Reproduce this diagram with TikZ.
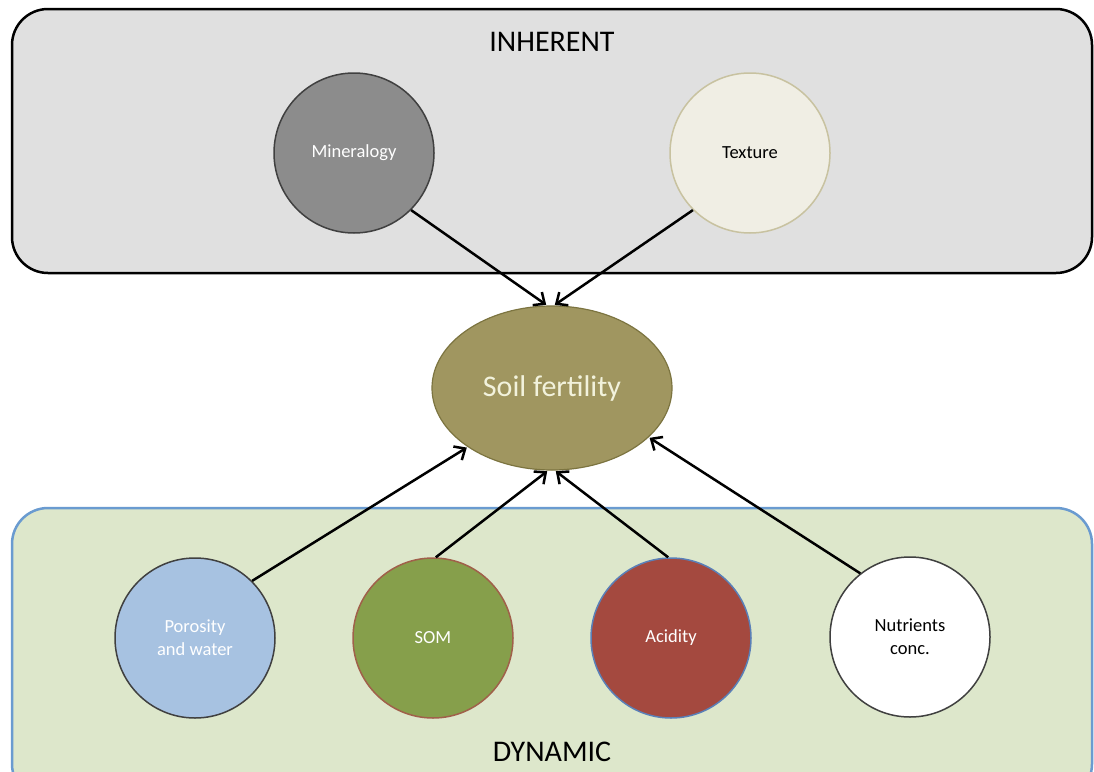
\documentclass[tikz,border=0pt]{standalone}
\usepackage{fontspec}
\setmainfont{Carlito}
\usetikzlibrary{arrows.meta,shapes.geometric}
\definecolor{topfill}{HTML}{E0E0E0}
\definecolor{botfill}{HTML}{DDE7CB}
\definecolor{botline}{HTML}{6A9BD0}
\definecolor{minfill}{HTML}{8C8C8C}
\definecolor{minline}{HTML}{404040}
\definecolor{texfill}{HTML}{F0EEE4}
\definecolor{texline}{HTML}{C8C2A0}
\definecolor{soilfill}{HTML}{A09660}
\definecolor{soilline}{HTML}{7C7440}
\definecolor{soiltext}{HTML}{F2F2DC}
\definecolor{porfill}{HTML}{A7C2E1}
\definecolor{somfill}{HTML}{869F4B}
\definecolor{somline}{HTML}{A0604A}
\definecolor{acifill}{HTML}{A4493F}
\definecolor{aciline}{HTML}{5A80B8}
\definecolor{circline}{HTML}{404040}
\tikzset{
  bigbox/.style={rounded corners=36pt, line width=2.5pt},
  factor/.style={circle, minimum size=160pt, inner sep=0pt, line width=1.5pt, align=center,
    font=\fontsize{18.5}{23}\selectfont},
  title/.style={font=\fontsize{30}{36}\selectfont, text=black},
  link/.style={line width=2.5pt, -{Straight Barb[length=9pt,width=16pt,line width=2.5pt]}, shorten >=1pt}
}
\begin{document}
\begin{tikzpicture}[x=1pt,y=-1pt]
\useasboundingbox (0,0) rectangle (1094,771);
\fill[white] (0,0) rectangle (1094,771);
% boxes
\draw[bigbox, fill=topfill, draw=black] (12,9) rectangle (1092,273);
\draw[bigbox, fill=botfill, draw=botline] (12,508) rectangle (1092,800);
\node[title] (inh) at (552,42) {INHERENT};
\node[title] (dyn) at (552,752) {DYNAMIC};
% inherent factors
\node[factor, fill=minfill, draw=minline, text=white] (min) at (354,153) {Mineralogy};
\node[factor, fill=texfill, draw=texline, text=black] (tex) at (750,153) {Texture};
% soil fertility
\node[ellipse, minimum width=240pt, minimum height=164pt, inner sep=0pt, fill=soilfill, draw=soilline,
  line width=1.2pt, text=soiltext, font=\fontsize{30}{36}\selectfont] (soil) at (552,388) {Soil fertility};
% dynamic factors
\node[factor, fill=porfill, draw=circline, text=white] (por) at (195,638) {Porosity\\and water};
\node[factor, fill=somfill, draw=somline, text=white] (som) at (433,638) {SOM};
\node[factor, fill=acifill, draw=aciline, text=white] (aci) at (671,638) {Acidity};
\node[factor, fill=white, draw=circline, text=black] (nut) at (910,637) {Nutrients\\conc.};
% connectors
\draw[link] (min.-45) -- ([xshift=-5pt]soil.north);
\draw[link] (tex.-135) -- ([xshift=2pt]soil.north);
\draw[link] (por.45) -- (soil.215);
\draw[link] (som.88) -- ([xshift=-4pt]soil.south);
\draw[link] (aci.92) -- ([xshift=3pt]soil.south);
\draw[link] (nut.128) -- (soil.333);
\end{tikzpicture}
\end{document}
